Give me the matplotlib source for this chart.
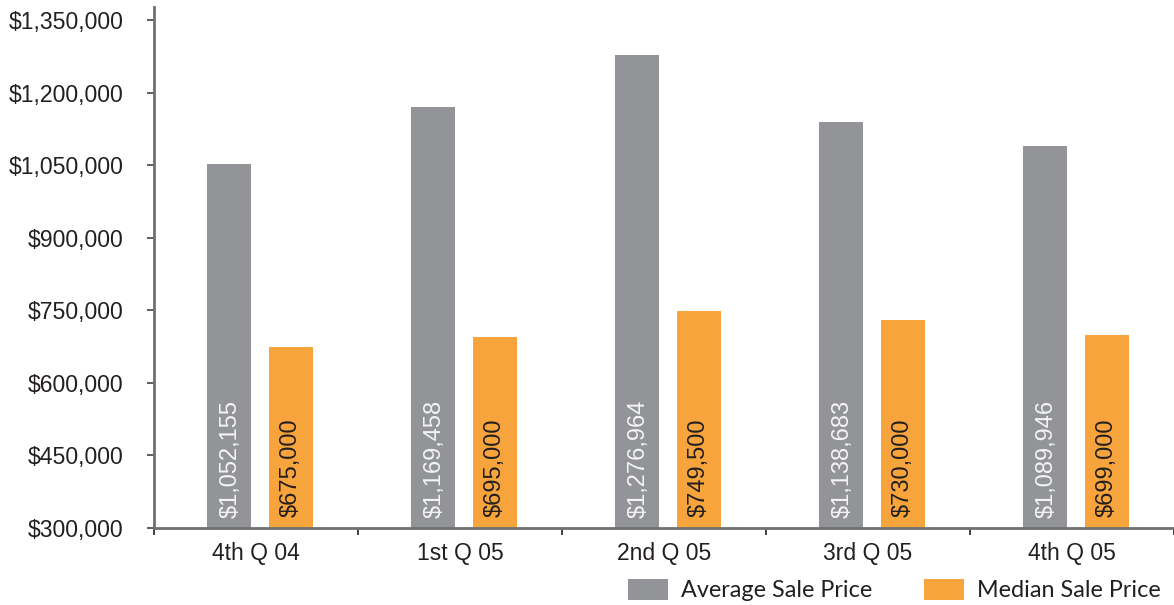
import numpy as np
import matplotlib
matplotlib.use("Agg")
import matplotlib.pyplot as plt
from matplotlib.patches import Patch
from matplotlib.ticker import FuncFormatter

# ================= DATA =================
quarters = ["4th Q 04", "1st Q 05", "2nd Q 05", "3rd Q 05", "4th Q 05"]
avg_price = [1052155, 1169458, 1276964, 1138683, 1089946]
median_price = [675000, 695000, 749500, 730000, 699000]
y_ticks = [300000, 450000, 600000, 750000, 900000, 1050000, 1200000, 1350000]

GRAY = "#939498"
ORANGE = "#F8A43C"
TEXT = "#231f20"
SPINE = "#707070"

plt.rcParams['font.family'] = ['Liberation Sans', 'DejaVu Sans']

fig = plt.figure(figsize=(11.74, 6.05), dpi=100)
ax = fig.add_axes([154 / 1174, 1 - 528 / 605, 1 - 154 / 1174, (528 - 7) / 605])

x = np.arange(len(quarters))
bar_w = 0.216
ax.bar(x - 0.133, avg_price, width=bar_w, color=GRAY, bottom=0)
ax.bar(x + 0.172, median_price, width=bar_w, color=ORANGE, bottom=0)

# labels inside bars, written upward from the base
for xi, v in zip(x, avg_price):
    ax.annotate(f"${v:,.0f}", (xi - 0.125, 300000), xytext=(0, 7),
                textcoords="offset points", rotation=90, ha="center",
                va="bottom", color="#f4f4f4", fontsize=17)
for xi, v in zip(x, median_price):
    ax.annotate(f"${v:,.0f}", (xi + 0.172, 300000), xytext=(0, 8),
                textcoords="offset points", rotation=90, ha="center",
                va="bottom", color=TEXT, fontsize=17)

ax.set_ylim(300000, 1377000)
ax.set_xlim(-0.5, len(quarters) - 0.5)
ax.set_yticks(y_ticks)
ax.yaxis.set_major_formatter(FuncFormatter(lambda v, p: f"${v:,.0f}"))
ax.set_xticks(x)
ax.set_xticklabels(quarters)
ax.set_xticks(np.arange(-0.5, len(quarters), 1.0), minor=True)

ax.tick_params(axis="y", length=5, width=1.2, color="#444444", pad=17,
               labelsize=16.6, labelcolor=TEXT)
ax.tick_params(axis="x", which="major", length=0, pad=10,
               labelsize=16.5, labelcolor=TEXT)
ax.tick_params(axis="x", which="minor", length=5, width=1.2, color="#222222")

for side in ["top", "right"]:
    ax.spines[side].set_visible(False)
for side in ["left", "bottom"]:
    ax.spines[side].set_color(SPINE)
    ax.spines[side].set_linewidth(2)

handles = [Patch(facecolor=GRAY, edgecolor="none"),
           Patch(facecolor=ORANGE, edgecolor="none")]
fig.legend(handles, ["Average Sale Price", "Median Sale Price"],
           loc="center left", bbox_to_anchor=(628 / 1174, 1 - 590 / 605),
           ncol=2, frameon=False, borderpad=0, borderaxespad=0,
           handlelength=1.72, handleheight=1.0, handletextpad=0.55,
           columnspacing=2.2, prop={"family": ["Lato", "DejaVu Sans"], "size": 16.8},
           labelcolor=TEXT)

fig.savefig("out.png", dpi=100)
